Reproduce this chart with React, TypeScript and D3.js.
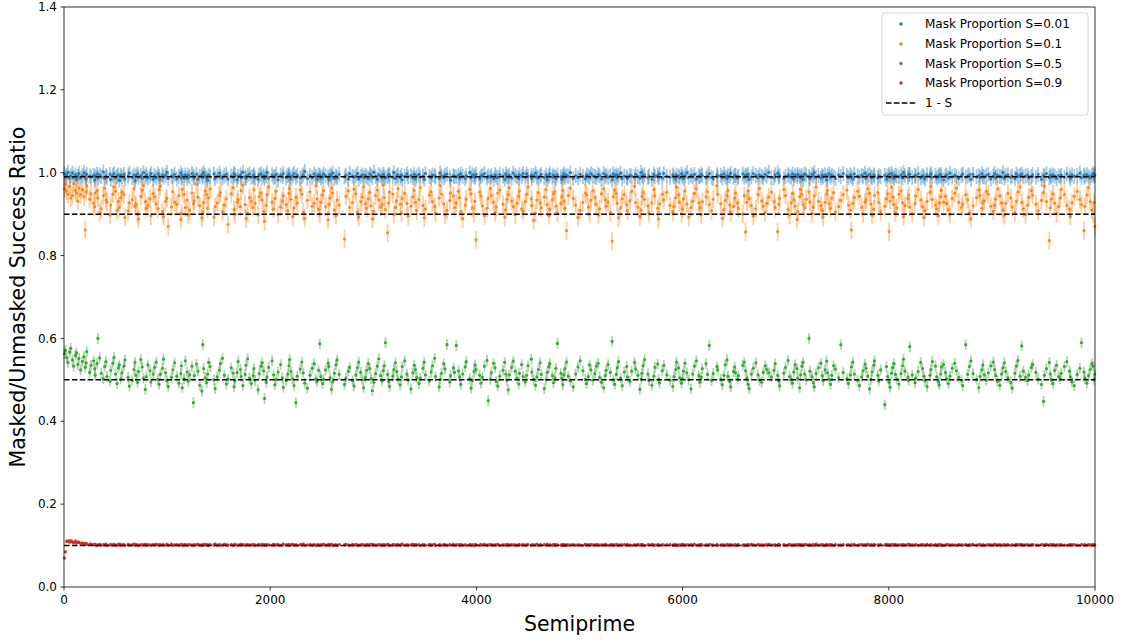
import React from "react";
import * as d3 from "d3";

const W = 1123;
const H = 642;
const M = { left: 64, right: 1095, top: 7, bottom: 587 };

const xTicks = [0, 2000, 4000, 6000, 8000, 10000];
const yTicks = [0, 0.2, 0.4, 0.6, 0.8, 1.0, 1.2, 1.4];

const seriesNames = ["Mask Proportion S=0.01", "Mask Proportion S=0.1", "Mask Proportion S=0.5", "Mask Proportion S=0.9"];
const seriesColors = ["#1f77b4", "#ff7f0e", "#2ca02c", "#d62728"];
const sValues = [0.01, 0.1, 0.5, 0.9];
const errHalf = [0.018, 0.022, 0.013, 0.004];
// value = base + offset / divisor
const bases = [0.97, 0.83, 0.415, 0.095];
const divisors = [1000, 1000, 1000, 10000];

// S = 0.01 offsets (thousandths above 0.970)
const blueVals = [
  27,19,24,31,16,22,29,18,25,14,21,28,17,23,30,20,15,26,22,19,
  24,13,21,27,18,25,20,32,16,22,19,26,14,23,28,17,21,25,12,24,
  20,26,15,22,29,18,24,11,21,27,19,23,16,30,20,25,17,22,28,14,
  23,18,27,21,13,25,19,24,31,16,22,20,26,15,21,29,18,23,17,25,
  16,24,20,28,22,17,26,14,21,25,19,30,23,18,12,24,20,27,16,22,
  29,21,17,23,26,15,22,19,28,24,13,21,25,18,31,20,16,23,27,19,
  21,25,18,14,24,27,20,23,16,22,30,17,25,19,21,26,13,24,20,28,
  18,23,26,21,15,22,28,19,24,17,20,25,33,16,23,18,27,21,14,25,
  24,17,20,27,23,19,13,25,21,29,16,22,18,26,20,24,15,28,22,19,
  22,28,15,21,25,18,24,20,16,27,23,19,31,21,14,25,22,17,26,20,
  17,21,26,23,19,30,16,22,25,18,24,13,21,27,20,23,18,26,15,22,
  26,19,22,14,28,21,17,25,23,20,16,29,22,18,24,27,19,12,23,21,
  20,24,17,27,21,16,23,30,18,25,22,19,26,15,21,24,28,17,22,19,
  23,15,25,20,18,26,22,14,27,21,19,24,17,29,23,20,16,25,21,28,
  19,27,21,24,16,23,29,20,17,22,26,18,25,13,22,27,19,24,20,16,
  25,20,14,22,27,19,24,21,30,16,23,18,26,21,15,25,22,19,28,23,
  21,18,26,23,15,28,20,24,19,22,13,27,21,25,18,23,29,16,22,20,
  16,24,22,19,26,21,17,31,23,20,25,18,22,14,26,21,24,19,27,17,
  28,22,19,25,20,14,24,22,18,27,21,16,23,30,19,24,20,26,15,22,
  20,26,23,17,22,28,19,15,25,21,24,18,27,20,16,23,22,29,19,24,
  23,17,21,27,19,24,22,26,14,20,28,23,18,25,21,17,26,22,31,19,
  18,25,29,20,23,16,21,25,22,19,27,15,24,20,26,22,18,23,14,27,
  24,21,16,26,22,30,19,23,17,24,20,25,13,22,27,19,24,21,16,25,
  21,28,23,18,25,20,15,27,22,19,24,21,29,17,23,26,20,18,25,22,
  17,23,20,24,14,22,26,19,28,21,16,24,22,20,25,18,30,23,19,26,
  26,19,24,21,27,17,23,20,15,25,22,28,19,23,17,21,24,26,20,13,
  22,25,18,29,20,24,21,16,23,27,19,22,25,14,26,20,23,18,27,21,
  19,23,26,15,22,28,18,24,21,20,30,17,23,25,19,22,16,27,21,24,
  27,20,22,24,17,21,25,19,26,14,23,21,28,18,24,20,25,22,16,23,
  20,24,19,27,22,16,25,21,23,29,18,24,20,26,21,17,23,28,22,25,
];

// S = 0.1 offsets (thousandths above 0.830)
const orangeVals = [
  131,142,126,118,137,109,115,144,128,121,101,133,117,129,112,32,124,138,106,119,
  96,88,121,127,109,74,83,115,132,104,99,68,92,118,136,125,79,101,86,110,
  123,117,62,78,97,105,131,89,94,70,58,113,128,139,100,84,91,107,66,120,
  112,95,83,129,137,76,64,101,108,40,87,124,99,93,115,57,72,130,118,86,
  104,68,79,121,95,102,143,111,90,61,74,98,126,117,84,109,131,63,88,97,
  115,122,76,92,107,45,119,134,81,70,99,105,88,127,140,93,59,72,110,101,
  86,129,96,68,113,121,104,77,53,91,117,135,99,82,108,125,69,87,102,114,
  93,78,120,132,106,64,85,111,97,128,118,75,60,103,124,89,96,138,107,82,
  71,99,116,127,88,56,94,109,133,121,80,67,104,92,10,113,126,86,98,130,
  119,75,63,100,111,136,95,84,107,122,90,58,77,115,128,104,87,93,140,110,
  81,25,97,123,118,69,86,102,131,94,73,108,120,96,65,89,112,127,99,78,
  105,134,91,61,83,116,124,100,88,72,109,139,118,95,68,79,103,121,114,86,
  97,125,110,76,59,92,106,130,119,85,71,101,8,123,114,90,66,84,108,132,
  115,99,74,87,121,128,94,63,80,106,117,134,102,88,69,96,113,125,83,77,
  100,118,136,107,91,55,72,104,122,97,85,111,129,93,67,82,105,119,124,89,
  73,96,112,127,101,84,30,115,133,108,92,62,79,98,121,116,87,70,103,126,
  110,94,68,83,119,131,105,89,99,74,5,112,128,120,96,61,85,107,117,93,
  78,102,125,137,98,87,64,80,113,122,106,90,73,97,129,114,84,58,95,118,
  104,123,91,76,88,110,135,116,99,71,82,107,126,94,63,86,101,120,131,97,
  85,69,100,112,124,93,78,106,139,118,95,60,81,103,115,127,92,75,88,109,
  121,97,84,70,114,27,99,126,107,91,65,83,117,132,102,89,74,96,111,123,
  100,86,28,94,108,129,115,81,68,97,120,104,89,57,76,112,130,118,93,85,
  106,124,99,72,87,114,136,101,90,79,63,98,119,127,95,84,109,122,75,88,
  103,117,128,92,80,32,96,110,125,113,86,71,99,105,131,120,94,67,82,115,
  122,98,76,89,107,119,28,102,135,111,93,74,85,118,126,97,64,91,108,116,
  87,71,95,114,129,104,88,62,79,101,123,137,106,92,83,66,97,112,127,99,
  113,96,81,70,108,121,133,99,86,94,117,105,73,59,90,110,128,115,84,97,
  102,125,118,89,77,92,106,131,114,97,80,67,96,120,109,87,74,101,124,136,
  98,83,69,92,111,127,116,94,78,103,122,138,100,6,85,107,119,96,72,88,
  109,130,117,91,82,64,97,113,125,105,93,30,89,116,134,100,80,71,98,40,
];

// S = 0.5 offsets (thousandths above 0.415)
const greenVals = [
  148,156,139,127,152,161,133,118,144,150,122,137,109,129,141,115,126,153,103,120,
  131,112,96,124,185,138,101,88,117,129,93,82,108,125,139,99,76,114,121,87,
  102,118,133,91,70,84,110,127,96,79,105,134,116,89,62,93,121,107,80,99,
  115,128,86,74,98,113,135,102,83,69,91,109,126,94,77,100,119,66,88,131,
  104,81,97,118,30,95,123,106,72,58,170,112,90,78,99,127,117,85,64,92,
  108,124,137,96,75,87,114,101,68,82,103,129,110,93,71,98,120,136,89,76,
  95,112,84,61,100,118,126,107,40,79,92,115,131,97,73,86,104,122,90,67,
  83,99,119,134,105,88,71,30,94,111,128,102,77,65,96,113,124,87,81,108,
  172,93,76,86,109,125,117,90,62,80,101,121,133,98,74,89,106,115,83,70,
  97,114,128,103,85,66,91,108,124,112,88,59,79,100,118,136,95,82,107,119,
  175,98,81,69,94,110,126,105,87,73,92,117,131,99,84,63,102,120,109,91,
  76,89,113,128,97,82,104,119,137,93,68,86,101,124,111,170,80,95,114,103,
  168,107,92,74,99,116,129,88,65,83,105,121,110,96,77,91,118,132,35,86,
  102,125,114,81,70,94,108,127,99,84,61,97,115,130,106,89,75,101,122,93,
  80,96,119,135,104,87,72,92,110,126,98,64,85,103,117,124,95,78,90,113,
  173,101,88,73,97,112,128,94,82,68,99,116,131,107,86,76,93,121,109,84,
  100,118,125,91,79,66,95,108,122,103,178,85,74,98,114,129,89,71,104,117,
  92,81,106,127,111,96,62,87,101,119,134,99,83,72,94,115,123,86,78,107,
  120,97,84,69,93,110,128,114,90,77,88,106,125,102,85,63,99,118,131,95,
  79,91,112,124,98,168,83,100,117,109,86,73,96,121,133,94,81,68,105,116,
  102,87,95,120,128,107,90,74,64,99,113,126,97,84,79,103,119,110,102,92,
  108,124,96,82,70,101,115,132,93,86,77,104,121,112,89,66,97,118,127,99,
  85,185,106,93,78,68,100,114,125,95,83,109,130,102,87,74,96,119,111,90,
  170,103,88,76,97,116,128,99,84,71,92,107,123,113,94,63,86,104,120,131,
  96,82,109,25,117,93,79,67,101,115,124,98,87,75,100,119,135,106,91,84,
  165,97,78,89,105,127,112,94,83,69,96,110,129,118,92,80,73,99,116,122,
  103,88,76,94,113,125,107,91,84,71,170,98,117,131,100,86,66,93,109,121,
  97,84,102,119,128,110,95,81,72,99,114,126,105,90,79,65,101,118,132,94,
  167,106,91,83,97,115,122,103,87,74,33,96,112,127,99,85,76,108,120,93,
  88,101,117,129,106,92,80,71,98,113,175,104,89,77,95,110,124,118,86,99,
];

// S = 0.9 offsets (ten-thousandths above 0.0950)
const redVals = [
  -250,-100,150,165,130,170,140,120,155,115,135,125,105,110,95,100,85,90,80,88,
  74,62,81,55,69,77,58,71,64,84,52,67,75,60,79,57,70,63,86,59,
  66,73,54,78,61,69,83,57,72,65,50,76,62,68,80,56,71,64,59,74,
  61,82,67,55,73,64,70,58,77,63,86,53,68,72,60,66,79,57,65,71,
  58,69,75,62,51,74,67,81,59,64,72,56,78,61,68,54,73,66,84,60,
  71,57,64,79,66,60,73,52,69,76,63,58,82,65,71,55,67,74,61,68,
  63,75,59,68,72,56,80,65,61,74,54,70,63,77,59,67,72,57,64,88,
  67,61,73,57,65,78,62,69,55,72,66,83,58,63,71,60,76,53,68,65,
  55,70,64,81,59,67,73,61,77,56,64,69,52,74,66,79,62,58,71,63,
  74,62,57,68,76,63,54,72,66,59,80,65,71,57,63,75,60,68,55,70,
  60,77,66,53,71,64,69,58,74,62,67,85,56,70,61,65,78,59,73,64,
  68,56,72,63,59,75,61,67,82,57,70,63,55,73,66,60,71,64,77,58,
  65,71,54,76,62,68,58,73,60,66,51,74,69,59,72,63,80,57,66,70,
  72,58,67,61,79,55,70,64,57,71,65,60,75,62,68,54,73,67,61,76,
  57,66,73,59,64,70,62,78,56,69,63,72,58,81,61,67,55,71,65,60,
  69,63,58,74,67,52,71,60,66,75,59,68,64,56,77,62,70,58,73,65,
  62,74,66,57,70,61,79,64,55,68,72,58,66,61,74,53,69,63,76,59,
  73,60,55,68,63,77,58,71,65,62,54,70,67,80,59,64,72,57,61,69,
  64,69,72,56,75,62,66,53,70,61,78,65,57,68,63,73,60,82,58,67,
  56,71,63,66,59,73,68,61,76,57,64,70,62,55,71,66,59,74,63,60,
  70,58,75,62,68,54,64,72,60,79,66,58,73,61,67,56,70,63,77,65,
  61,67,59,80,63,71,57,66,74,62,55,69,64,72,58,76,61,68,54,71,
  75,63,68,57,72,60,83,59,65,70,63,57,76,64,60,71,66,52,73,62,
  59,72,64,69,55,67,62,75,58,66,73,61,68,56,79,63,70,59,64,74,
  66,57,71,63,77,61,69,54,73,60,67,76,59,65,62,72,57,68,81,63,
  71,65,60,74,58,66,72,63,56,78,62,69,64,71,55,67,74,60,65,58,
  63,76,67,59,70,64,55,73,68,61,75,58,66,62,80,59,69,72,57,66,
  58,62,73,66,61,79,60,67,71,56,64,70,63,74,58,68,61,76,65,71,
  72,59,65,70,57,68,74,62,59,73,66,55,78,61,69,64,71,58,67,63,
  65,70,61,56,74,63,67,72,60,58,71,64,69,57,75,62,66,70,59,68,
];

const seriesVals = [blueVals, orangeVals, greenVals, redVals];

// x categories: semiprimes below 10000
function semiprimesBelow(n: number): number[] {
  const spf = new Array(n).fill(0);
  for (let i = 2; i < n; i++) {
    if (spf[i] === 0) for (let j = i; j < n; j += i) if (spf[j] === 0) spf[j] = i;
  }
  const out: number[] = [];
  for (let k = 4; k < n; k++) {
    const p = spf[k];
    const q = k / p;
    if (q >= 2 && spf[q] === q) out.push(k);
  }
  return out;
}
const semiprimes = semiprimesBelow(10000);

export default function App() {
  const x = d3.scaleLinear().domain([0, 10000]).range([M.left, M.right]);
  const y = d3.scaleLinear().domain([0, 1.4]).range([M.bottom, M.top]);
  const font = "DejaVu Sans, sans-serif";

  const series = seriesVals.map((vals, si) => {
    const n = vals.length;
    return vals.map((v, i) => {
      const idx = Math.round((i * (semiprimes.length - 1)) / (n - 1));
      return { x: semiprimes[idx], y: bases[si] + v / divisors[si], e: errHalf[si] };
    });
  });

  const legendRows = [24, 44, 63.5, 83, 103];

  return (
    <svg width={W} height={H} style={{ position: "absolute", left: 0, top: 0, background: "#fff" }} fontFamily={font}>
      <rect x={0} y={0} width={W} height={H} fill="#fff" />
      {series.map((pts, si) => (
        <g key={si}>
          {pts.map((p, i) => (
            <line
              key={"e" + i}
              x1={x(p.x)}
              x2={x(p.x)}
              y1={y(p.y - p.e)}
              y2={y(p.y + p.e)}
              stroke={seriesColors[si]}
              strokeOpacity={0.4}
              strokeWidth={1.8}
            />
          ))}
          {pts.map((p, i) => (
            <circle key={"p" + i} cx={x(p.x)} cy={y(p.y)} r={1.6} fill={seriesColors[si]} fillOpacity={0.9} />
          ))}
        </g>
      ))}
      {sValues.map((s, i) => (
        <line
          key={"d" + i}
          x1={x(0)}
          x2={x(10000)}
          y1={y(1 - s)}
          y2={y(1 - s)}
          stroke="#000"
          strokeWidth={1.5}
          strokeDasharray="5.5,2.4"
        />
      ))}
      <rect x={M.left} y={M.top} width={M.right - M.left} height={M.bottom - M.top} fill="none" stroke="#000" strokeWidth={0.8} />
      {xTicks.map((t) => (
        <g key={"xt" + t}>
          <line x1={x(t)} x2={x(t)} y1={M.bottom} y2={M.bottom + 3.5} stroke="#000" strokeWidth={0.8} />
          <text x={x(t)} y={M.bottom + 17} fontSize={12} textAnchor="middle" fill="#000">
            {t}
          </text>
        </g>
      ))}
      {yTicks.map((t) => (
        <g key={"yt" + t}>
          <line x1={M.left - 3.5} x2={M.left} y1={y(t)} y2={y(t)} stroke="#000" strokeWidth={0.8} />
          <text x={M.left - 7} y={y(t)} dy="0.35em" fontSize={12} textAnchor="end" fill="#000">
            {t.toFixed(1)}
          </text>
        </g>
      ))}
      <text x={(M.left + M.right) / 2} y={631} fontSize={20.5} textAnchor="middle" fill="#000">
        Semiprime
      </text>
      <text transform={`translate(25, ${(M.top + M.bottom) / 2}) rotate(-90)`} fontSize={20.5} textAnchor="middle" fill="#000">
        Masked/Unmasked Success Ratio
      </text>
      <rect x={882} y={13} width={206} height={102} rx={3} fill="#fff" fillOpacity={0.8} stroke="#ccc" strokeWidth={0.8} />
      {seriesNames.map((name, i) => (
        <g key={"lg" + i}>
          <circle cx={901} cy={legendRows[i]} r={1.7} fill={seriesColors[i]} />
          <text x={925} y={legendRows[i]} dy="0.35em" fontSize={12} fill="#000">
            {name}
          </text>
        </g>
      ))}
      <line x1={886} x2={916} y1={legendRows[4]} y2={legendRows[4]} stroke="#000" strokeWidth={1.5} strokeDasharray="5.5,2.4" />
      <text x={925} y={legendRows[4]} dy="0.35em" fontSize={12} fill="#000">
        1 - S
      </text>
    </svg>
  );
}
